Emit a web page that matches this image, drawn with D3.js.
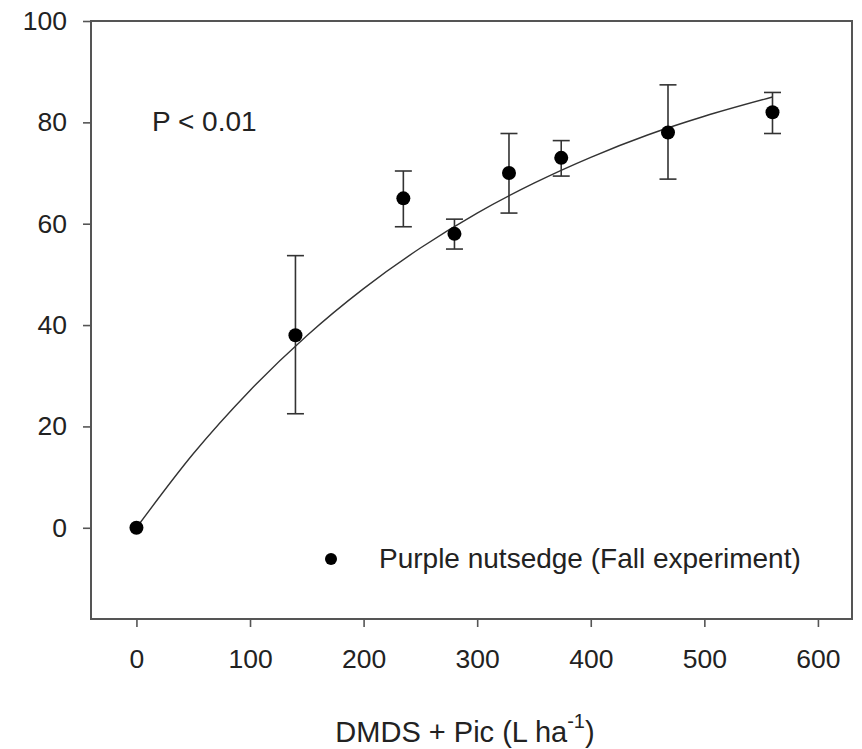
<!DOCTYPE html>
<html>
<head>
<meta charset="utf-8">
<script src="https://cdn.jsdelivr.net/npm/d3@7"></script>
<style>
  html, body { margin: 0; padding: 0; background: #fff; }
  svg { display: block; font-family: "Liberation Sans", Arial, sans-serif; }
</style>
</head>
<body>
<svg id="chart" width="862" height="749"></svg>
<script>
// Observed control (%) per DMDS + Pic rate, with error bar limits
const rates   = [0, 140, 235, 280, 328, 374, 468, 560];
const control = [0, 38.0, 65.0, 58.0, 70.0, 73.0, 78.0, 82.0];
const errLow  = [0, 22.5, 59.4, 55.0, 62.1, 69.4, 68.8, 77.8];
const errHigh = [0, 53.7, 70.4, 60.9, 77.8, 76.4, 87.4, 85.9];

// Fitted response curve, sampled along the rate axis
const fitRates   = [0, 50, 100, 150, 200, 250, 300, 350, 400, 450, 500, 560];
const fitControl = [0, 14.6, 27.1, 37.9, 47.2, 55.2, 62.1, 68.0, 73.1, 77.5, 81.2, 85.0];

const xTicks = [0, 100, 200, 300, 400, 500, 600];
const yTicks = [0, 20, 40, 60, 80, 100];

const svg = d3.select("#chart");
const plot = { left: 91, right: 852, top: 21, bottom: 619 };

const x = d3.scaleLinear().domain([-40, 630]).range([plot.left, plot.right]);
const y = d3.scaleLinear().domain([-18, 100]).range([plot.bottom, plot.top]);

const ink = "#222";
const frame = "#555";

// Plot frame
svg.append("rect")
  .attr("x", plot.left).attr("y", plot.top)
  .attr("width", plot.right - plot.left).attr("height", plot.bottom - plot.top)
  .attr("fill", "none").attr("stroke", frame).attr("stroke-width", 2);

// Axes
const yAxis = svg.append("g")
  .attr("transform", `translate(${plot.left},0)`)
  .call(d3.axisLeft(y).tickValues(yTicks).tickSize(8).tickPadding(16).tickSizeOuter(0));
const xAxis = svg.append("g")
  .attr("transform", `translate(0,${plot.bottom})`)
  .call(d3.axisBottom(x).tickValues(xTicks).tickSize(8).tickPadding(22).tickSizeOuter(0));

[yAxis, xAxis].forEach(g => {
  g.select(".domain").remove();
  g.selectAll(".tick line").attr("stroke", frame).attr("stroke-width", 1.6);
  g.selectAll(".tick text")
    .attr("fill", ink)
    .style("font-size", "26.5px")
    .style("font-family", "'Liberation Sans', Arial, sans-serif");
});

// Fitted curve
const line = d3.line()
  .x((d, i) => x(fitRates[i]))
  .y(d => y(d))
  .curve(d3.curveMonotoneX);
svg.append("path")
  .datum(fitControl)
  .attr("d", line)
  .attr("fill", "none")
  .attr("stroke", "#333")
  .attr("stroke-width", 1.4);

// Error bars
const capHalf = 8.5;
const bars = svg.append("g").attr("stroke", "#333").attr("stroke-width", 1.6);
rates.forEach((r, i) => {
  if (errHigh[i] === errLow[i]) return;
  const cx = x(r);
  bars.append("line").attr("x1", cx).attr("x2", cx).attr("y1", y(errLow[i])).attr("y2", y(errHigh[i]));
  bars.append("line").attr("x1", cx - capHalf).attr("x2", cx + capHalf).attr("y1", y(errHigh[i])).attr("y2", y(errHigh[i]));
  bars.append("line").attr("x1", cx - capHalf).attr("x2", cx + capHalf).attr("y1", y(errLow[i])).attr("y2", y(errLow[i]));
});

// Observed points
svg.append("g").selectAll("circle")
  .data(control)
  .join("circle")
  .attr("cx", (d, i) => x(rates[i]))
  .attr("cy", d => y(d))
  .attr("r", 7)
  .attr("fill", "#000");

// Significance note
svg.append("text")
  .attr("x", 152).attr("y", 131)
  .attr("fill", ink)
  .style("font-size", "28px")
  .text("P < 0.01");

// Legend
svg.append("circle").attr("cx", 331).attr("cy", 559).attr("r", 6).attr("fill", "#000");
svg.append("text")
  .attr("x", 379).attr("y", 568)
  .attr("fill", ink)
  .style("font-size", "28px")
  .text("Purple nutsedge (Fall experiment)");

// X axis title
const title = svg.append("text")
  .attr("x", 465).attr("y", 742)
  .attr("text-anchor", "middle")
  .attr("fill", ink)
  .style("font-size", "29px");
title.append("tspan").text("DMDS + Pic (L ha");
title.append("tspan").attr("dy", -14).style("font-size", "20px").text("-1");
title.append("tspan").attr("dy", 14).text(")");
</script>
</body>
</html>
